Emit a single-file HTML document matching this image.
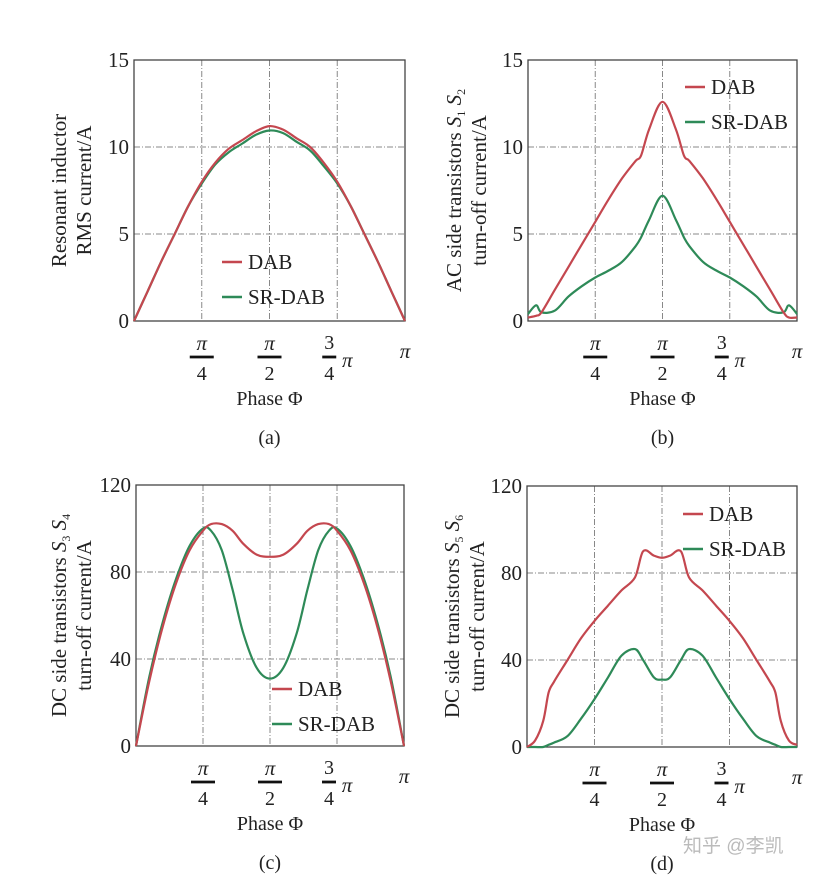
<!DOCTYPE html>
<html><head><meta charset="utf-8"><style>
body{margin:0;background:#fff}
svg{display:block;font-family:"Liberation Serif",serif}
</style></head><body>
<svg id="fig" width="831" height="883" viewBox="0 0 831 883" xmlns="http://www.w3.org/2000/svg"></svg>
<script>
const xs = [0,0.05,0.1,0.15,0.2,0.25,0.3,0.35,0.4,0.45,0.5,0.55,0.6,0.65,0.7,0.75,0.8,0.85,0.9,0.95,1];
const aDAB = [0,1.7,3.4,5.0,6.6,8.0,9.1,9.9,10.4,10.9,11.2,11.0,10.5,10.0,9.1,8.0,6.6,5.0,3.4,1.7,0];
const aSR  = [0,1.7,3.4,5.0,6.6,7.9,9.0,9.7,10.2,10.7,10.95,10.8,10.3,9.8,8.9,7.9,6.6,5.0,3.4,1.7,0];
const bX   = [0,0.03,0.05,0.1,0.15,0.2,0.25,0.3,0.35,0.4,0.42,0.45,0.5,0.55,0.58,0.6,0.65,0.7,0.75,0.8,0.85,0.9,0.95,0.97,1];
const bDAB = [0.2,0.3,0.5,1.8,3.1,4.4,5.7,7.0,8.2,9.2,9.5,11.0,12.6,11.0,9.5,9.2,8.2,7.0,5.7,4.4,3.1,1.8,0.5,0.2,0.2];
const bSR  = [0.4,0.9,0.5,0.6,1.4,2.0,2.5,2.9,3.4,4.3,4.8,5.8,7.2,5.8,4.8,4.3,3.4,2.9,2.5,2.0,1.4,0.6,0.5,0.9,0.4];
const cX   = [0,0.05,0.1,0.15,0.2,0.25,0.28,0.32,0.36,0.4,0.45,0.5,0.55,0.6,0.64,0.68,0.72,0.75,0.8,0.85,0.9,0.95,1];
const cDAB = [0,30,55,75,90,99,102,102,99,93,88,87,88,93,99,102,102,99,90,75,55,30,0];
const cSR  = [0,32,57,77,92,100,99,90,72,52,36,31,36,52,72,90,99,100,92,77,57,32,0];
const dX   = [0,0.03,0.06,0.08,0.1,0.15,0.2,0.25,0.3,0.35,0.4,0.43,0.47,0.5,0.53,0.57,0.6,0.65,0.7,0.75,0.8,0.85,0.9,0.92,0.94,0.97,1];
const dDAB = [0,3,12,25,30,40,50,58,65,72,78,90,88,87,88,90,78,72,65,58,50,40,30,25,12,3,1];
const dSR  = [0,0,0,1,2,5,13,22,32,42,45,40,32,31,32,40,45,42,32,22,13,5,2,1,0,0,0];
const yTicksA = [0,5,10,15];
const yTicksC = [0,40,80,120];

const NS="http://www.w3.org/2000/svg";
const svg=document.getElementById('fig');
function el(t,a,p){const e=document.createElementNS(NS,t);for(const k in a)e.setAttribute(k,a[k]);(p||svg).appendChild(e);return e;}
const RED="#c4474f", GRN="#2e8a58", TXT="#222";

function smooth(pts){
  let d='M'+pts[0][0].toFixed(1)+','+pts[0][1].toFixed(1);
  for(let i=0;i<pts.length-1;i++){
    const p0=pts[Math.max(0,i-1)],p1=pts[i],p2=pts[i+1],p3=pts[Math.min(pts.length-1,i+2)];
    const c1=[p1[0]+(p2[0]-p0[0])/6,p1[1]+(p2[1]-p0[1])/6];
    const c2=[p2[0]-(p3[0]-p1[0])/6,p2[1]-(p3[1]-p1[1])/6];
    d+=` C${c1[0].toFixed(1)},${c1[1].toFixed(1)} ${c2[0].toFixed(1)},${c2[1].toFixed(1)} ${p2[0].toFixed(1)},${p2[1].toFixed(1)}`;
  }
  return d;
}

function panel(cfg){
  const g=el('g',{});
  
  
  const {L,R,T,B,ymax}=cfg;
  const X=v=>L+(R-L)*v, Y=v=>B-(B-T)*v/ymax;
  [0.25,0.5,0.75].forEach(f=>{const l=el('line',{x1:X(f),x2:X(f),y1:T,y2:B,stroke:'#888','stroke-width':1,'stroke-dasharray':'6 2 1 2'},g);
    });
  cfg.yt.forEach(t=>{if(t>0&&t<ymax){const l=el('line',{x1:L,x2:R,y1:Y(t),y2:Y(t),stroke:'#888','stroke-width':1,'stroke-dasharray':'6 2 1 2'},g);
    }
    const tx=el('text',{x:L-5,y:Y(t)+7,'text-anchor':'end','font-size':21,fill:TXT},g);tx.textContent=t;
    });
  const box=el('rect',{x:L,y:T,width:R-L,height:B-T,fill:'none',stroke:'#444','stroke-width':1.3},g);
  
  [['π','4',0.25],['π','2',0.5]].forEach(([n,d,f])=>{
    const a=el('text',{x:X(f),y:B+29,'text-anchor':'middle','font-size':21,'font-style':'italic',fill:TXT},g);a.textContent=n;
    
    el('line',{x1:X(f)-12,x2:X(f)+12,y1:B+36,y2:B+36,stroke:'#111','stroke-width':2.8},g);
    const b=el('text',{x:X(f),y:B+59,'text-anchor':'middle','font-size':20,fill:TXT},g);b.textContent=d;
  });
  const t3=el('text',{x:X(0.75)-8,y:B+28,'text-anchor':'middle','font-size':20,fill:TXT},g);t3.textContent='3';
  
  el('line',{x1:X(0.75)-15,x2:X(0.75)-1,y1:B+36,y2:B+36,stroke:'#111','stroke-width':2.8},g);
  const t4=el('text',{x:X(0.75)-8,y:B+59,'text-anchor':'middle','font-size':20,fill:TXT},g);t4.textContent='4';
  const tp=el('text',{x:X(0.75)+10,y:B+46,'text-anchor':'middle','font-size':21,'font-style':'italic',fill:TXT},g);tp.textContent='π';
  const tpi=el('text',{x:X(1),y:B+37,'text-anchor':'middle','font-size':21,'font-style':'italic',fill:TXT},g);tpi.textContent='π';
  
  const xl=el('text',{x:X(0.5),y:B+84,'text-anchor':'middle','font-size':20,fill:TXT},g);xl.textContent='Phase Φ';
  
  const cap=el('text',{x:X(0.5),y:B+123,'text-anchor':'middle','font-size':20,fill:TXT},g);cap.textContent=cfg.cap;
  
  const cy=(T+B)/2;
  const y1=el('text',{x:0,y:0,'text-anchor':'middle','font-size':21,fill:TXT,transform:`translate(${cfg.tx1},${cy}) rotate(-90)`},g);
  y1.innerHTML=cfg.t1;
  const y2=el('text',{x:0,y:0,'text-anchor':'middle','font-size':21,fill:TXT,transform:`translate(${cfg.tx1+25},${cy}) rotate(-90)`},g);
  y2.textContent=cfg.t2;
  [[cfg.sr,GRN,'sr-dab-line'],[cfg.dab,RED,'dab-line']].forEach(([ys,c,n])=>{
    const pts=ys.map((v,i)=>[X(cfg.x[i]),Y(v)]);
    const p=el('path',{d:smooth(pts),fill:'none',stroke:c,'stroke-width':2.2,'stroke-linejoin':'round'},g);
    
  });
  [['DAB',RED,cfg.ly],['SR-DAB',GRN,cfg.ly+35]].forEach(([t,c,y])=>{
    const lg=el('g',{},g);
    el('line',{x1:cfg.lx,x2:cfg.lx+20,y1:y,y2:y,stroke:c,'stroke-width':2.5},lg);
    const tt=el('text',{x:cfg.lx+26,y:y+7,'font-size':21,fill:TXT},lg);tt.textContent=t;
  });
}
panel({name:'panel-a',L:134,R:405,T:60,B:321,ymax:15,yt:yTicksA,x:xs,dab:aDAB,sr:aSR,cap:'(a)',tx1:66,
  t1:'Resonant inductor',t2:'RMS current/A',lx:222,ly:262});
panel({name:'panel-b',L:528,R:797,T:60,B:321,ymax:15,yt:yTicksA,x:bX,dab:bDAB,sr:bSR,cap:'(b)',tx1:461,
  t1:'AC side transistors <tspan font-style="italic">S</tspan><tspan font-size="12" dy="4">1</tspan><tspan dy="-4"> </tspan><tspan font-style="italic">S</tspan><tspan font-size="12" dy="4">2</tspan>',t2:'turn-off current/A',lx:685,ly:87});
panel({name:'panel-c',L:136,R:404,T:485,B:746,ymax:120,yt:yTicksC,x:cX,dab:cDAB,sr:cSR,cap:'(c)',tx1:66,
  t1:'DC side transistors <tspan font-style="italic">S</tspan><tspan font-size="12" dy="4">3</tspan><tspan dy="-4"> </tspan><tspan font-style="italic">S</tspan><tspan font-size="12" dy="4">4</tspan>',t2:'turn-off current/A',lx:272,ly:689});
panel({name:'panel-d',L:527,R:797,T:486,B:747,ymax:120,yt:yTicksC,x:dX,dab:dDAB,sr:dSR,cap:'(d)',tx1:459,
  t1:'DC side transistors <tspan font-style="italic">S</tspan><tspan font-size="12" dy="4">5</tspan><tspan dy="-4"> </tspan><tspan font-style="italic">S</tspan><tspan font-size="12" dy="4">6</tspan>',t2:'turn-off current/A',lx:683,ly:514});
const wm=el('text',{x:683,y:852,'font-size':19,fill:'#bbb','font-family':'"Liberation Sans","Noto Sans CJK SC",sans-serif'});
wm.textContent='知乎 @李凯';


</script>
</body></html>
